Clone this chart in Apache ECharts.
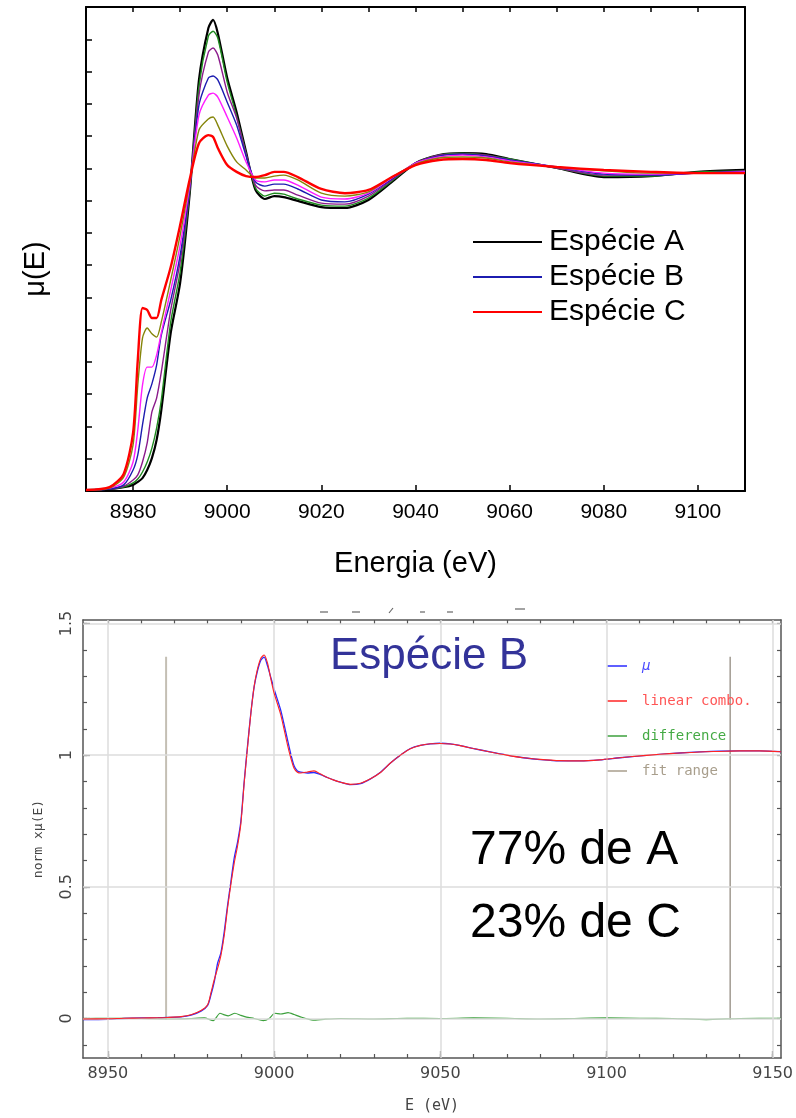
<!DOCTYPE html>
<html><head><meta charset="utf-8">
<script src="https://cdn.jsdelivr.net/npm/echarts@6/dist/echarts.min.js"></script>
<style>html,body{margin:0;padding:0;background:#fff}#c{width:796px;height:1118px}</style>
</head><body><div id="c"></div>
<script>
// ---------- Top chart: μ(E) of the mixture series ----------
const energyTop = [8970, 8975, 8978, 8980, 8981, 8982, 8983, 8984, 8985, 8986,
  8988, 8990, 8992, 8994, 8996, 8997, 8998, 9000, 9002, 9004,
  9006, 9008, 9010, 9012, 9015, 9020, 9025, 9030, 9035, 9040,
  9045, 9050, 9055, 9060, 9070, 9080, 9090, 9100, 9110];
const especieA = [0.003,0.006,0.012,0.019,0.028,0.040,0.065,0.102,0.158,0.251,
  0.490,0.645,0.917,1.274,1.435,1.460,1.419,1.280,1.174,1.051,
  0.933,0.905,0.914,0.911,0.899,0.880,0.877,0.902,0.958,1.016,
  1.041,1.047,1.044,1.029,1.001,0.973,0.976,0.989,0.995];
const mixGreen = [0.003,0.006,0.012,0.025,0.037,0.059,0.090,0.133,0.195,0.282,
  0.524,0.679,0.923,1.255,1.410,1.425,1.404,1.267,1.162,1.047,
  0.939,0.914,0.923,0.920,0.905,0.886,0.883,0.908,0.961,1.016,
  1.041,1.047,1.041,1.029,1.001,0.976,0.976,0.989,0.992];
const mixPurple = [0.003,0.006,0.015,0.034,0.050,0.090,0.149,0.245,0.288,0.369,
  0.561,0.710,0.930,1.227,1.360,1.373,1.351,1.236,1.156,1.044,
  0.948,0.930,0.933,0.933,0.917,0.892,0.889,0.914,0.964,1.016,
  1.041,1.044,1.041,1.026,1.001,0.979,0.979,0.985,0.992];
const especieB = [0.003,0.006,0.019,0.065,0.112,0.205,0.288,0.332,0.390,0.483,
  0.592,0.731,0.936,1.196,1.280,1.286,1.274,1.205,1.134,1.038,
  0.958,0.945,0.951,0.951,0.936,0.902,0.896,0.920,0.967,1.016,
  1.038,1.044,1.038,1.026,1.004,0.982,0.979,0.985,0.989];
const mixMagenta = [0.003,0.009,0.028,0.090,0.189,0.328,0.384,0.384,0.421,0.490,
  0.623,0.762,0.945,1.165,1.227,1.233,1.221,1.159,1.094,1.020,
  0.964,0.958,0.964,0.964,0.948,0.911,0.905,0.923,0.970,1.016,
  1.035,1.041,1.035,1.023,1.004,0.985,0.982,0.985,0.989];
const mixOlive = [0.003,0.009,0.043,0.143,0.328,0.474,0.505,0.487,0.477,0.524,
  0.654,0.793,0.954,1.119,1.153,1.159,1.134,1.069,1.020,0.995,
  0.970,0.970,0.976,0.979,0.964,0.923,0.914,0.927,0.973,1.013,
  1.032,1.035,1.032,1.020,1.004,0.992,0.985,0.985,0.985];
const especieC = [0.003,0.012,0.053,0.180,0.406,0.567,0.561,0.536,0.536,0.592,
  0.694,0.824,0.964,1.078,1.103,1.097,1.063,1.010,0.989,0.976,
  0.973,0.979,0.989,0.989,0.973,0.936,0.923,0.933,0.973,1.010,
  1.026,1.029,1.026,1.016,1.004,0.995,0.989,0.985,0.985];
const topTickLabels = [8980, 9000, 9020, 9040, 9060, 9080, 9100];

// ---------- Bottom chart: linear combination fit of Espécie B ----------
const energyFit = [8942.5, 8950, 8955, 8960, 8965, 8968, 8972, 8975, 8978, 8980,
  8981, 8982, 8983, 8984, 8985, 8986, 8987, 8988, 8989, 8990,
  8991, 8992, 8993, 8994, 8995, 8996, 8997, 8998, 8999, 9000,
  9002, 9004, 9005, 9006, 9007, 9008, 9010, 9012, 9014, 9016,
  9018, 9020, 9023, 9026, 9029, 9032, 9035, 9038, 9041, 9044,
  9047, 9050, 9053, 9056, 9060, 9065, 9070, 9075, 9080, 9086,
  9092, 9098, 9104, 9110, 9116, 9122, 9128, 9134, 9140, 9146, 9152.5];
const muB = [-0.004, -0.003, 0.0, 0.002, 0.003, 0.004, 0.006, 0.013, 0.028, 0.05,
  0.09, 0.14, 0.21, 0.25, 0.33, 0.43, 0.52, 0.61, 0.67, 0.75,
  0.9, 1.035, 1.16, 1.26, 1.32, 1.36, 1.372, 1.34, 1.295, 1.25,
  1.17, 1.06, 1.005, 0.96, 0.94, 0.935, 0.932, 0.934, 0.926, 0.915,
  0.905, 0.897, 0.888, 0.892, 0.91, 0.935, 0.97, 1.0, 1.025, 1.037,
  1.043, 1.045, 1.043, 1.036, 1.025, 1.012, 1.0, 0.99, 0.983, 0.978,
  0.978, 0.982, 0.99, 0.997, 1.003, 1.008, 1.012, 1.015, 1.016, 1.016, 1.013];
const linearCombo = [-0.002, -0.001, 0.001, 0.002, 0.003, 0.004, 0.007, 0.014, 0.03, 0.052,
  0.098, 0.148, 0.19, 0.24, 0.316, 0.42, 0.51, 0.59, 0.655, 0.74,
  0.895, 1.03, 1.158, 1.262, 1.327, 1.368, 1.38, 1.35, 1.29, 1.235,
  1.153, 1.04, 0.99, 0.95, 0.935, 0.932, 0.936, 0.94, 0.928, 0.915,
  0.905, 0.897, 0.889, 0.893, 0.91, 0.934, 0.97, 1.0, 1.024, 1.037,
  1.043, 1.044, 1.042, 1.036, 1.025, 1.012, 1.0, 0.99, 0.984, 0.979,
  0.978, 0.982, 0.99, 0.997, 1.003, 1.008, 1.012, 1.014, 1.016, 1.016, 1.013];
const energyDiff = [8942.5, 8950, 8960, 8970, 8975, 8979, 8981.7, 8983.7, 8985, 8986.2,
  8988.2, 8990, 8991.7, 8994, 8996.7, 8998.5, 9000.2, 9002, 9004.2, 9006,
  9007.7, 9011.7, 9015, 9020, 9030, 9040, 9050, 9060, 9070, 9080,
  9090, 9100, 9110, 9120, 9130, 9140, 9152.5];
const difference = [0.0, 0.001, 0.0, -0.002, 0.0, 0.002, -0.008, 0.02, 0.014, 0.01,
  0.02, 0.012, 0.005, 0.0, -0.008, 0.0, 0.02, 0.017, 0.022, 0.015,
  0.007, -0.006, -0.003, 0.0, -0.002, 0.001, 0.0, 0.002, 0.001, -0.002,
  0.0, 0.002, 0.001, 0.0, -0.004, 0.0, 0.001];
const fitRange = [8967.5, 9137.2];
const fitRangeSpan = [-0.005, 1.373];
const fitXLabels = [8950, 9000, 9050, 9100, 9150];
const fitXTicks = [8950, 8960, 8970, 8980, 8990, 9000, 9010, 9020, 9030, 9040, 9050,
  9060, 9070, 9080, 9090, 9100, 9110, 9120, 9130, 9140, 9150];
const fitYLabels = [0, 0.5, 1, 1.5];
const fitYTicks = [-0.1, 0, 0.1, 0.2, 0.3, 0.4, 0.5, 0.6, 0.7, 0.8, 0.9, 1, 1.1, 1.2, 1.3, 1.4, 1.5];
const fractions = ['77% de A', '23% de C'];

const zip = (xs, ys) => xs.map((x, i) => [x, ys[i]]);
const plain = v => String(v);

const topSeries = [
  ['Espécie A', especieA, '#000000', 2.2],
  ['mistura 1', mixGreen, '#1f8a1f', 1.4],
  ['mistura 2', mixPurple, '#8b1a8b', 1.4],
  ['Espécie B', especieB, '#1c1cb0', 1.4],
  ['mistura 3', mixMagenta, '#ff1cff', 1.4],
  ['mistura 4', mixOlive, '#85850a', 1.4],
  ['Espécie C', especieC, '#ff0000', 2.4]
].map(([name, vals, color, w]) => ({
  name, type: 'line', xAxisIndex: 0, yAxisIndex: 0,
  data: zip(energyTop, vals), showSymbol: false, smooth: 0.25,
  itemStyle: { color }, lineStyle: { color, width: w }, z: 3
}));

const blackAxis = { onZero: false, lineStyle: { color: '#000', width: 2 } };
const greyAxis = { onZero: false, lineStyle: { color: '#555', width: 1.5 } };
const noLine = { show: false, onZero: false };
const monoFont = 'DejaVu Sans Mono';

const option = {
  animation: false,
  backgroundColor: '#fff',
  grid: [
    { left: 86, top: 7, width: 659, height: 484, outerBoundsMode: 'none' },
    { left: 83, top: 620, width: 698, height: 438, outerBoundsMode: 'none' }
  ],
  xAxis: [
    { gridIndex: 0, type: 'value', min: 8970, max: 9110, position: 'bottom',
      axisLine: blackAxis,
      axisTick: { customValues: topTickLabels, inside: true, length: 6, lineStyle: { color: '#000', width: 1.5 } },
      axisLabel: { customValues: topTickLabels, formatter: plain, color: '#000', fontSize: 21, fontFamily: 'Liberation Sans', margin: 11 },
      splitLine: { show: false },
      name: 'Energia (eV)', nameLocation: 'middle', nameGap: 58,
      nameTextStyle: { fontSize: 29, fontFamily: 'Liberation Sans', color: '#000' } },
    { gridIndex: 0, type: 'value', min: 8970, max: 9110, interval: 10, position: 'top',
      axisLine: blackAxis,
      axisTick: { inside: true, length: 5, lineStyle: { color: '#000', width: 1.5 } },
      axisLabel: { show: false }, splitLine: { show: false } },
    { gridIndex: 1, type: 'value', min: 8942.5, max: 9152.5, position: 'bottom',
      axisLine: greyAxis,
      axisTick: { customValues: fitXTicks, inside: true, length: 4, lineStyle: { color: '#555', width: 1.2 } },
      axisLabel: { customValues: fitXLabels, formatter: plain, color: '#444', fontSize: 16, fontFamily: 'DejaVu Sans', margin: 8 },
      splitLine: { show: false },
      name: 'E (eV)', nameLocation: 'middle', nameGap: 41,
      nameTextStyle: { fontSize: 15, fontFamily: monoFont, color: '#444' } },
    { gridIndex: 1, type: 'value', min: 8942.5, max: 9152.5, position: 'bottom',
      axisLine: noLine,
      axisTick: { customValues: fitXLabels, inside: true, length: 7, lineStyle: { color: '#555', width: 1.2 } },
      axisLabel: { show: false }, splitLine: { show: false } },
    { gridIndex: 1, type: 'value', min: 8942.5, max: 9152.5, position: 'top',
      axisLine: greyAxis,
      axisTick: { customValues: fitXTicks, inside: true, length: 4, lineStyle: { color: '#555', width: 1.2 } },
      axisLabel: { show: false }, splitLine: { show: false } }
  ],
  yAxis: [
    { gridIndex: 0, type: 'value', min: 0, max: 1.5, interval: 0.1, position: 'left',
      axisLine: blackAxis,
      axisTick: { inside: true, length: 6, lineStyle: { color: '#000', width: 1.5 } },
      axisLabel: { show: false }, splitLine: { show: false },
      name: 'μ(E)', nameLocation: 'middle', nameGap: 36, nameRotate: 90,
      nameTextStyle: { fontSize: 29, fontFamily: 'Liberation Sans', color: '#000', padding: [0, 40, 0, 0] } },
    { gridIndex: 0, type: 'value', min: 0, max: 1.5, position: 'right',
      axisLine: { show: true, onZero: false, lineStyle: { color: '#000', width: 2 } },
      axisTick: { show: false }, axisLabel: { show: false }, splitLine: { show: false } },
    { gridIndex: 1, type: 'value', min: -0.15, max: 1.513, position: 'left',
      axisLine: greyAxis,
      axisTick: { customValues: fitYTicks, inside: true, length: 4, lineStyle: { color: '#555', width: 1.2 } },
      axisLabel: { customValues: fitYLabels, formatter: plain, rotate: 90, color: '#444', fontSize: 16, fontFamily: 'DejaVu Sans', margin: 8 },
      splitLine: { show: false },
      name: 'norm xμ(E)', nameLocation: 'middle', nameGap: 38, nameRotate: 90,
      nameTextStyle: { fontSize: 13, fontFamily: monoFont, color: '#444' } },
    { gridIndex: 1, type: 'value', min: -0.15, max: 1.513, position: 'left',
      axisLine: noLine,
      axisTick: { customValues: fitYLabels, inside: true, length: 7, lineStyle: { color: '#555', width: 1.2 } },
      axisLabel: { show: false }, splitLine: { show: false } },
    { gridIndex: 1, type: 'value', min: -0.15, max: 1.513, position: 'right',
      axisLine: { show: true, onZero: false, lineStyle: { color: '#555', width: 1.5 } },
      axisTick: { customValues: fitYTicks, inside: true, length: 4, lineStyle: { color: '#555', width: 1.2 } },
      axisLabel: { show: false }, splitLine: { show: false } }
  ],
  legend: [
    { data: ['Espécie A', 'Espécie B', 'Espécie C'], orient: 'vertical', left: 473, top: 227,
      padding: 0, icon: 'rect', itemWidth: 69, itemHeight: 2, itemGap: 5, selectedMode: false,
      textStyle: { fontSize: 30, fontFamily: 'Liberation Sans', color: '#000', padding: [0, 0, 0, 2] } },
    { data: [
        { name: 'μ', textStyle: { color: '#4a4aff', fontStyle: 'italic' } },
        { name: 'linear combo.', textStyle: { color: '#ff5555' } },
        { name: 'difference', textStyle: { color: '#45aa45' } },
        { name: 'fit range', textStyle: { color: '#a89e8c' } }
      ],
      orient: 'vertical', left: 607, top: 659, padding: 0, icon: 'rect', itemWidth: 20, itemHeight: 1.5,
      itemGap: 21, selectedMode: false,
      textStyle: { fontSize: 14, fontFamily: monoFont, padding: [0, 0, 0, 10] } }
  ],
  series: [
    ...topSeries,
    { name: 'gridlines', type: 'line', xAxisIndex: 2, yAxisIndex: 2, data: [], z: 1, silent: true,
      markLine: { silent: true, symbol: ['none', 'none'], label: { show: false },
        lineStyle: { color: '#dcdcdc', width: 1.5, type: 'solid' }, animation: false,
        data: fitXLabels.map(v => ({ xAxis: v })).concat(fitYLabels.map(v => ({ yAxis: v }))) } },
    { name: 'fit range', type: 'line', xAxisIndex: 2, yAxisIndex: 2, showSymbol: false, z: 2,
      data: [[fitRange[0], fitRangeSpan[0]], [fitRange[0], fitRangeSpan[1]]],
      itemStyle: { color: '#a89e8c' }, lineStyle: { color: '#c4bfb4', width: 2 } },
    { name: 'fit range', type: 'line', xAxisIndex: 2, yAxisIndex: 2, showSymbol: false, z: 2,
      data: [[fitRange[1], fitRangeSpan[0]], [fitRange[1], fitRangeSpan[1]]],
      itemStyle: { color: '#a89e8c' }, lineStyle: { color: '#8a8276', width: 1.2 } },
    { name: 'difference', type: 'line', xAxisIndex: 2, yAxisIndex: 2, showSymbol: false, z: 3,
      data: zip(energyDiff, difference), smooth: 0.2,
      itemStyle: { color: '#3ca03c' }, lineStyle: { color: '#3ca03c', width: 1.2 } },
    { name: 'μ', type: 'line', xAxisIndex: 2, yAxisIndex: 2, showSymbol: false, z: 4,
      data: zip(energyFit, muB), smooth: 0.25,
      itemStyle: { color: '#2a2aff' }, lineStyle: { color: '#2a2aff', width: 1.3 } },
    { name: 'linear combo.', type: 'line', xAxisIndex: 2, yAxisIndex: 2, showSymbol: false, z: 5,
      data: zip(energyFit, linearCombo), smooth: 0.25,
      itemStyle: { color: '#ff2424' }, lineStyle: { color: '#ff2424', width: 1.1 } }
  ],
  graphic: [
    { type: 'text', x: 429, y: 657, z: 10,
      style: { text: 'Espécie B', font: '44px "Liberation Sans"', fill: '#333399',
        textAlign: 'center', textVerticalAlign: 'middle', align: 'center', verticalAlign: 'middle' } },
    { type: 'text', x: 470, y: 851, z: 10,
      style: { text: fractions[0], font: '48px "Liberation Sans"', fill: '#000',
        textAlign: 'left', textVerticalAlign: 'middle', align: 'left', verticalAlign: 'middle' } },
    { type: 'text', x: 470, y: 924, z: 10,
      style: { text: fractions[1], font: '48px "Liberation Sans"', fill: '#000',
        textAlign: 'left', textVerticalAlign: 'middle', align: 'left', verticalAlign: 'middle' } },
    ...[[320, 612, 328, 612], [352, 612, 360, 612], [389, 613, 393, 608], [420, 612, 425, 612],
        [447, 612, 453, 612], [515, 609, 525, 609]].map(s => ({
      type: 'line', shape: { x1: s[0], y1: s[1], x2: s[2], y2: s[3] },
      style: { stroke: '#666', lineWidth: 1.2 } }))
  ]
};

const chart = echarts.init(document.getElementById('c'), null, { renderer: 'canvas' });
chart.setOption(option);
</script></body></html>
